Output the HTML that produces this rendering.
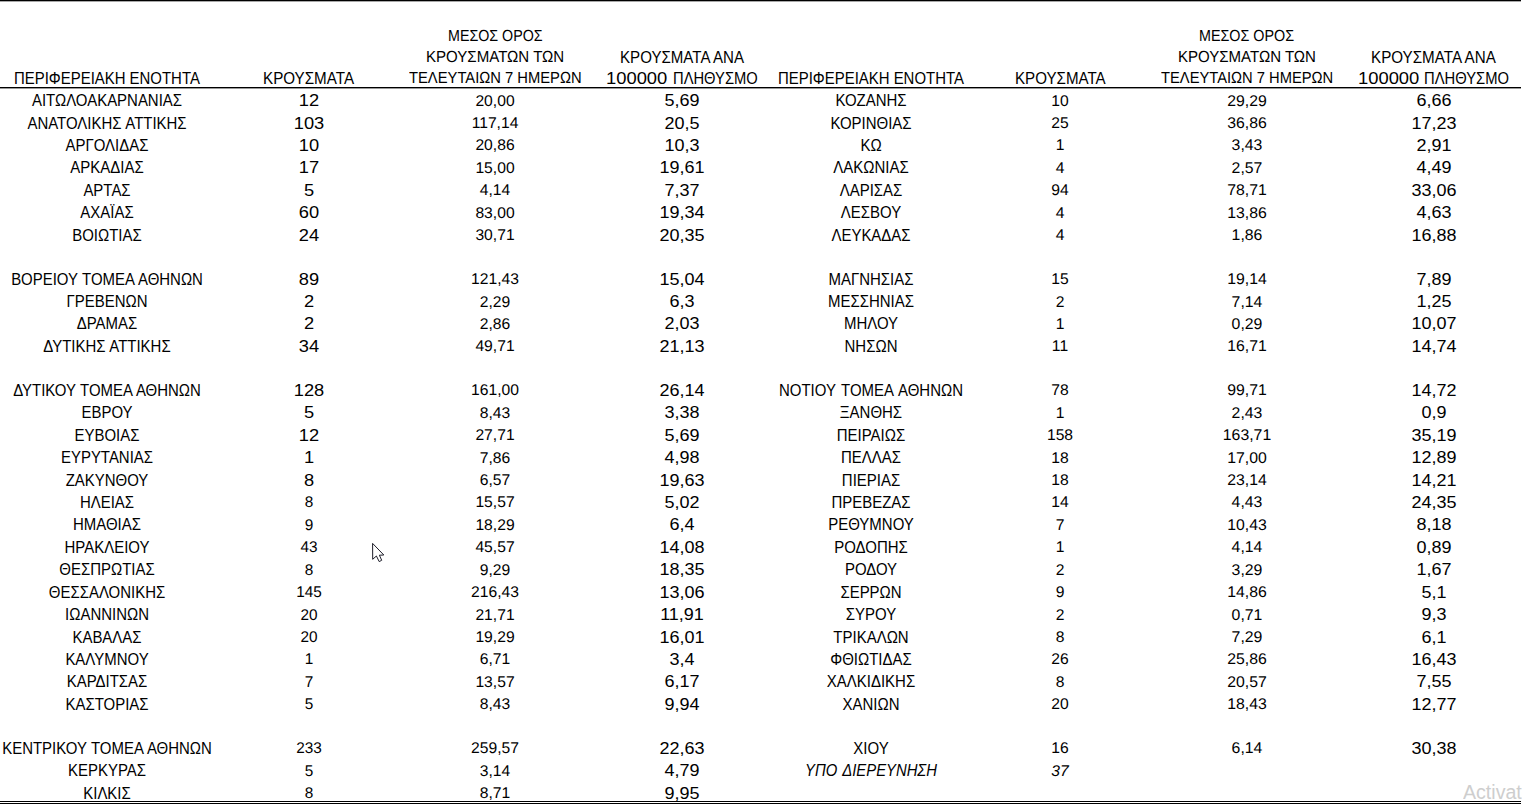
<!DOCTYPE html><html><head><meta charset="utf-8"><style>
html,body{margin:0;padding:0;background:#fff;}
body{width:1522px;height:809px;overflow:hidden;position:relative;font-family:"Liberation Sans",sans-serif;color:#000;}
.t{position:absolute;white-space:nowrap;line-height:1;width:0;height:0;}
.t span{position:absolute;left:0;top:0;display:block;}
.ln{position:absolute;background:#000;}

</style></head><body>

<div class="t" style="left:106.5px;top:93px"><span style="font-size:16px;transform:translateX(-50%) scaleX(0.935);">ΑΙΤΩΛΟΑΚΑΡΝΑΝΙΑΣ</span></div>
<div class="t" style="left:308.9px;top:93px"><span style="font-size:16px;transform:translateX(-50%) scaleX(1.142);">12</span></div>
<div class="t" style="left:494.8px;top:94px"><span style="font-size:15.5px;transform:translateX(-50%) scaleX(1.01);text-rendering:geometricPrecision;">20,00</span></div>
<div class="t" style="left:681.9px;top:93px"><span style="font-size:16px;transform:translateX(-50%) scaleX(1.125);">5,69</span></div>
<div class="t" style="left:871.0px;top:93px"><span style="font-size:16px;transform:translateX(-50%) scaleX(0.936);">ΚΟΖΑΝΗΣ</span></div>
<div class="t" style="left:1059.7px;top:94px"><span style="font-size:15.5px;transform:translateX(-50%) scaleX(1.01);text-rendering:geometricPrecision;">10</span></div>
<div class="t" style="left:1246.5px;top:94px"><span style="font-size:15.5px;transform:translateX(-50%) scaleX(1.02);text-rendering:geometricPrecision;">29,29</span></div>
<div class="t" style="left:1433.6px;top:93px"><span style="font-size:16px;transform:translateX(-50%) scaleX(1.124);">6,66</span></div>
<div class="t" style="left:106.5px;top:116px"><span style="font-size:16px;transform:translateX(-50%) scaleX(0.935);word-spacing:0.5px;">ΑΝΑΤΟΛΙΚΗΣ ΑΤΤΙΚΗΣ</span></div>
<div class="t" style="left:308.9px;top:116px"><span style="font-size:16px;transform:translateX(-50%) scaleX(1.142);">103</span></div>
<div class="t" style="left:494.8px;top:116px"><span style="font-size:15.5px;transform:translateX(-50%) scaleX(1.01);text-rendering:geometricPrecision;">117,14</span></div>
<div class="t" style="left:681.9px;top:116px"><span style="font-size:16px;transform:translateX(-50%) scaleX(1.125);">20,5</span></div>
<div class="t" style="left:871.0px;top:116px"><span style="font-size:16px;transform:translateX(-50%) scaleX(0.936);">ΚΟΡΙΝΘΙΑΣ</span></div>
<div class="t" style="left:1059.7px;top:116px"><span style="font-size:15.5px;transform:translateX(-50%) scaleX(1.01);text-rendering:geometricPrecision;">25</span></div>
<div class="t" style="left:1246.5px;top:116px"><span style="font-size:15.5px;transform:translateX(-50%) scaleX(1.02);text-rendering:geometricPrecision;">36,86</span></div>
<div class="t" style="left:1433.6px;top:116px"><span style="font-size:16px;transform:translateX(-50%) scaleX(1.124);">17,23</span></div>
<div class="t" style="left:106.5px;top:138px"><span style="font-size:16px;transform:translateX(-50%) scaleX(0.935);">ΑΡΓΟΛΙΔΑΣ</span></div>
<div class="t" style="left:308.9px;top:138px"><span style="font-size:16px;transform:translateX(-50%) scaleX(1.142);">10</span></div>
<div class="t" style="left:494.8px;top:138px"><span style="font-size:15.5px;transform:translateX(-50%) scaleX(1.01);text-rendering:geometricPrecision;">20,86</span></div>
<div class="t" style="left:681.9px;top:138px"><span style="font-size:16px;transform:translateX(-50%) scaleX(1.125);">10,3</span></div>
<div class="t" style="left:871.0px;top:138px"><span style="font-size:16px;transform:translateX(-50%) scaleX(0.936);">ΚΩ</span></div>
<div class="t" style="left:1059.7px;top:138px"><span style="font-size:15.5px;transform:translateX(-50%) scaleX(1.01);text-rendering:geometricPrecision;">1</span></div>
<div class="t" style="left:1246.5px;top:138px"><span style="font-size:15.5px;transform:translateX(-50%) scaleX(1.02);text-rendering:geometricPrecision;">3,43</span></div>
<div class="t" style="left:1433.6px;top:138px"><span style="font-size:16px;transform:translateX(-50%) scaleX(1.124);">2,91</span></div>
<div class="t" style="left:106.5px;top:160px"><span style="font-size:16px;transform:translateX(-50%) scaleX(0.935);">ΑΡΚΑΔΙΑΣ</span></div>
<div class="t" style="left:308.9px;top:160px"><span style="font-size:16px;transform:translateX(-50%) scaleX(1.142);">17</span></div>
<div class="t" style="left:494.8px;top:161px"><span style="font-size:15.5px;transform:translateX(-50%) scaleX(1.01);text-rendering:geometricPrecision;">15,00</span></div>
<div class="t" style="left:681.9px;top:160px"><span style="font-size:16px;transform:translateX(-50%) scaleX(1.125);">19,61</span></div>
<div class="t" style="left:871.0px;top:160px"><span style="font-size:16px;transform:translateX(-50%) scaleX(0.936);">ΛΑΚΩΝΙΑΣ</span></div>
<div class="t" style="left:1059.7px;top:161px"><span style="font-size:15.5px;transform:translateX(-50%) scaleX(1.01);text-rendering:geometricPrecision;">4</span></div>
<div class="t" style="left:1246.5px;top:161px"><span style="font-size:15.5px;transform:translateX(-50%) scaleX(1.02);text-rendering:geometricPrecision;">2,57</span></div>
<div class="t" style="left:1433.6px;top:160px"><span style="font-size:16px;transform:translateX(-50%) scaleX(1.124);">4,49</span></div>
<div class="t" style="left:106.5px;top:183px"><span style="font-size:16px;transform:translateX(-50%) scaleX(0.935);">ΑΡΤΑΣ</span></div>
<div class="t" style="left:308.9px;top:183px"><span style="font-size:16px;transform:translateX(-50%) scaleX(1.142);">5</span></div>
<div class="t" style="left:494.8px;top:183px"><span style="font-size:15.5px;transform:translateX(-50%) scaleX(1.01);text-rendering:geometricPrecision;">4,14</span></div>
<div class="t" style="left:681.9px;top:183px"><span style="font-size:16px;transform:translateX(-50%) scaleX(1.125);">7,37</span></div>
<div class="t" style="left:871.0px;top:183px"><span style="font-size:16px;transform:translateX(-50%) scaleX(0.936);">ΛΑΡΙΣΑΣ</span></div>
<div class="t" style="left:1059.7px;top:183px"><span style="font-size:15.5px;transform:translateX(-50%) scaleX(1.01);text-rendering:geometricPrecision;">94</span></div>
<div class="t" style="left:1246.5px;top:183px"><span style="font-size:15.5px;transform:translateX(-50%) scaleX(1.02);text-rendering:geometricPrecision;">78,71</span></div>
<div class="t" style="left:1433.6px;top:183px"><span style="font-size:16px;transform:translateX(-50%) scaleX(1.124);">33,06</span></div>
<div class="t" style="left:106.5px;top:205px"><span style="font-size:16px;transform:translateX(-50%) scaleX(0.935);">ΑΧΑΪΑΣ</span></div>
<div class="t" style="left:308.9px;top:205px"><span style="font-size:16px;transform:translateX(-50%) scaleX(1.142);">60</span></div>
<div class="t" style="left:494.8px;top:206px"><span style="font-size:15.5px;transform:translateX(-50%) scaleX(1.01);text-rendering:geometricPrecision;">83,00</span></div>
<div class="t" style="left:681.9px;top:205px"><span style="font-size:16px;transform:translateX(-50%) scaleX(1.125);">19,34</span></div>
<div class="t" style="left:871.0px;top:205px"><span style="font-size:16px;transform:translateX(-50%) scaleX(0.936);">ΛΕΣΒΟΥ</span></div>
<div class="t" style="left:1059.7px;top:206px"><span style="font-size:15.5px;transform:translateX(-50%) scaleX(1.01);text-rendering:geometricPrecision;">4</span></div>
<div class="t" style="left:1246.5px;top:206px"><span style="font-size:15.5px;transform:translateX(-50%) scaleX(1.02);text-rendering:geometricPrecision;">13,86</span></div>
<div class="t" style="left:1433.6px;top:205px"><span style="font-size:16px;transform:translateX(-50%) scaleX(1.124);">4,63</span></div>
<div class="t" style="left:106.5px;top:228px"><span style="font-size:16px;transform:translateX(-50%) scaleX(0.935);">ΒΟΙΩΤΙΑΣ</span></div>
<div class="t" style="left:308.9px;top:228px"><span style="font-size:16px;transform:translateX(-50%) scaleX(1.142);">24</span></div>
<div class="t" style="left:494.8px;top:228px"><span style="font-size:15.5px;transform:translateX(-50%) scaleX(1.01);text-rendering:geometricPrecision;">30,71</span></div>
<div class="t" style="left:681.9px;top:228px"><span style="font-size:16px;transform:translateX(-50%) scaleX(1.125);">20,35</span></div>
<div class="t" style="left:871.0px;top:228px"><span style="font-size:16px;transform:translateX(-50%) scaleX(0.936);">ΛΕΥΚΑΔΑΣ</span></div>
<div class="t" style="left:1059.7px;top:228px"><span style="font-size:15.5px;transform:translateX(-50%) scaleX(1.01);text-rendering:geometricPrecision;">4</span></div>
<div class="t" style="left:1246.5px;top:228px"><span style="font-size:15.5px;transform:translateX(-50%) scaleX(1.02);text-rendering:geometricPrecision;">1,86</span></div>
<div class="t" style="left:1433.6px;top:228px"><span style="font-size:16px;transform:translateX(-50%) scaleX(1.124);">16,88</span></div>
<div class="t" style="left:106.5px;top:272px"><span style="font-size:16px;transform:translateX(-50%) scaleX(0.935);word-spacing:0.5px;">ΒΟΡΕΙΟΥ ΤΟΜΕΑ ΑΘΗΝΩΝ</span></div>
<div class="t" style="left:308.9px;top:272px"><span style="font-size:16px;transform:translateX(-50%) scaleX(1.142);">89</span></div>
<div class="t" style="left:494.8px;top:272px"><span style="font-size:15.5px;transform:translateX(-50%) scaleX(1.01);text-rendering:geometricPrecision;">121,43</span></div>
<div class="t" style="left:681.9px;top:272px"><span style="font-size:16px;transform:translateX(-50%) scaleX(1.125);">15,04</span></div>
<div class="t" style="left:871.0px;top:272px"><span style="font-size:16px;transform:translateX(-50%) scaleX(0.936);">ΜΑΓΝΗΣΙΑΣ</span></div>
<div class="t" style="left:1059.7px;top:272px"><span style="font-size:15.5px;transform:translateX(-50%) scaleX(1.01);text-rendering:geometricPrecision;">15</span></div>
<div class="t" style="left:1246.5px;top:272px"><span style="font-size:15.5px;transform:translateX(-50%) scaleX(1.02);text-rendering:geometricPrecision;">19,14</span></div>
<div class="t" style="left:1433.6px;top:272px"><span style="font-size:16px;transform:translateX(-50%) scaleX(1.124);">7,89</span></div>
<div class="t" style="left:106.5px;top:294px"><span style="font-size:16px;transform:translateX(-50%) scaleX(0.935);">ΓΡΕΒΕΝΩΝ</span></div>
<div class="t" style="left:308.9px;top:294px"><span style="font-size:16px;transform:translateX(-50%) scaleX(1.142);">2</span></div>
<div class="t" style="left:494.8px;top:295px"><span style="font-size:15.5px;transform:translateX(-50%) scaleX(1.01);text-rendering:geometricPrecision;">2,29</span></div>
<div class="t" style="left:681.9px;top:294px"><span style="font-size:16px;transform:translateX(-50%) scaleX(1.125);">6,3</span></div>
<div class="t" style="left:871.0px;top:294px"><span style="font-size:16px;transform:translateX(-50%) scaleX(0.936);">ΜΕΣΣΗΝΙΑΣ</span></div>
<div class="t" style="left:1059.7px;top:295px"><span style="font-size:15.5px;transform:translateX(-50%) scaleX(1.01);text-rendering:geometricPrecision;">2</span></div>
<div class="t" style="left:1246.5px;top:295px"><span style="font-size:15.5px;transform:translateX(-50%) scaleX(1.02);text-rendering:geometricPrecision;">7,14</span></div>
<div class="t" style="left:1433.6px;top:294px"><span style="font-size:16px;transform:translateX(-50%) scaleX(1.124);">1,25</span></div>
<div class="t" style="left:106.5px;top:316px"><span style="font-size:16px;transform:translateX(-50%) scaleX(0.935);">ΔΡΑΜΑΣ</span></div>
<div class="t" style="left:308.9px;top:316px"><span style="font-size:16px;transform:translateX(-50%) scaleX(1.142);">2</span></div>
<div class="t" style="left:494.8px;top:317px"><span style="font-size:15.5px;transform:translateX(-50%) scaleX(1.01);text-rendering:geometricPrecision;">2,86</span></div>
<div class="t" style="left:681.9px;top:316px"><span style="font-size:16px;transform:translateX(-50%) scaleX(1.125);">2,03</span></div>
<div class="t" style="left:871.0px;top:316px"><span style="font-size:16px;transform:translateX(-50%) scaleX(0.936);">ΜΗΛΟΥ</span></div>
<div class="t" style="left:1059.7px;top:317px"><span style="font-size:15.5px;transform:translateX(-50%) scaleX(1.01);text-rendering:geometricPrecision;">1</span></div>
<div class="t" style="left:1246.5px;top:317px"><span style="font-size:15.5px;transform:translateX(-50%) scaleX(1.02);text-rendering:geometricPrecision;">0,29</span></div>
<div class="t" style="left:1433.6px;top:316px"><span style="font-size:16px;transform:translateX(-50%) scaleX(1.124);">10,07</span></div>
<div class="t" style="left:106.5px;top:339px"><span style="font-size:16px;transform:translateX(-50%) scaleX(0.935);word-spacing:0.5px;">ΔΥΤΙΚΗΣ ΑΤΤΙΚΗΣ</span></div>
<div class="t" style="left:308.9px;top:339px"><span style="font-size:16px;transform:translateX(-50%) scaleX(1.142);">34</span></div>
<div class="t" style="left:494.8px;top:339px"><span style="font-size:15.5px;transform:translateX(-50%) scaleX(1.01);text-rendering:geometricPrecision;">49,71</span></div>
<div class="t" style="left:681.9px;top:339px"><span style="font-size:16px;transform:translateX(-50%) scaleX(1.125);">21,13</span></div>
<div class="t" style="left:871.0px;top:339px"><span style="font-size:16px;transform:translateX(-50%) scaleX(0.936);">ΝΗΣΩΝ</span></div>
<div class="t" style="left:1059.7px;top:339px"><span style="font-size:15.5px;transform:translateX(-50%) scaleX(1.01);text-rendering:geometricPrecision;">11</span></div>
<div class="t" style="left:1246.5px;top:339px"><span style="font-size:15.5px;transform:translateX(-50%) scaleX(1.02);text-rendering:geometricPrecision;">16,71</span></div>
<div class="t" style="left:1433.6px;top:339px"><span style="font-size:16px;transform:translateX(-50%) scaleX(1.124);">14,74</span></div>
<div class="t" style="left:106.5px;top:383px"><span style="font-size:16px;transform:translateX(-50%) scaleX(0.935);word-spacing:0.5px;">ΔΥΤΙΚΟΥ ΤΟΜΕΑ ΑΘΗΝΩΝ</span></div>
<div class="t" style="left:308.9px;top:383px"><span style="font-size:16px;transform:translateX(-50%) scaleX(1.142);">128</span></div>
<div class="t" style="left:494.8px;top:383px"><span style="font-size:15.5px;transform:translateX(-50%) scaleX(1.01);text-rendering:geometricPrecision;">161,00</span></div>
<div class="t" style="left:681.9px;top:383px"><span style="font-size:16px;transform:translateX(-50%) scaleX(1.125);">26,14</span></div>
<div class="t" style="left:871.0px;top:383px"><span style="font-size:16px;transform:translateX(-50%) scaleX(0.936);word-spacing:1.6px;">ΝΟΤΙΟΥ ΤΟΜΕΑ ΑΘΗΝΩΝ</span></div>
<div class="t" style="left:1059.7px;top:383px"><span style="font-size:15.5px;transform:translateX(-50%) scaleX(1.01);text-rendering:geometricPrecision;">78</span></div>
<div class="t" style="left:1246.5px;top:383px"><span style="font-size:15.5px;transform:translateX(-50%) scaleX(1.02);text-rendering:geometricPrecision;">99,71</span></div>
<div class="t" style="left:1433.6px;top:383px"><span style="font-size:16px;transform:translateX(-50%) scaleX(1.124);">14,72</span></div>
<div class="t" style="left:106.5px;top:405px"><span style="font-size:16px;transform:translateX(-50%) scaleX(0.935);">ΕΒΡΟΥ</span></div>
<div class="t" style="left:308.9px;top:405px"><span style="font-size:16px;transform:translateX(-50%) scaleX(1.142);">5</span></div>
<div class="t" style="left:494.8px;top:406px"><span style="font-size:15.5px;transform:translateX(-50%) scaleX(1.01);text-rendering:geometricPrecision;">8,43</span></div>
<div class="t" style="left:681.9px;top:405px"><span style="font-size:16px;transform:translateX(-50%) scaleX(1.125);">3,38</span></div>
<div class="t" style="left:871.0px;top:405px"><span style="font-size:16px;transform:translateX(-50%) scaleX(0.936);">ΞΑΝΘΗΣ</span></div>
<div class="t" style="left:1059.7px;top:406px"><span style="font-size:15.5px;transform:translateX(-50%) scaleX(1.01);text-rendering:geometricPrecision;">1</span></div>
<div class="t" style="left:1246.5px;top:406px"><span style="font-size:15.5px;transform:translateX(-50%) scaleX(1.02);text-rendering:geometricPrecision;">2,43</span></div>
<div class="t" style="left:1433.6px;top:405px"><span style="font-size:16px;transform:translateX(-50%) scaleX(1.124);">0,9</span></div>
<div class="t" style="left:106.5px;top:428px"><span style="font-size:16px;transform:translateX(-50%) scaleX(0.935);">ΕΥΒΟΙΑΣ</span></div>
<div class="t" style="left:308.9px;top:428px"><span style="font-size:16px;transform:translateX(-50%) scaleX(1.142);">12</span></div>
<div class="t" style="left:494.8px;top:428px"><span style="font-size:15.5px;transform:translateX(-50%) scaleX(1.01);text-rendering:geometricPrecision;">27,71</span></div>
<div class="t" style="left:681.9px;top:428px"><span style="font-size:16px;transform:translateX(-50%) scaleX(1.125);">5,69</span></div>
<div class="t" style="left:871.0px;top:428px"><span style="font-size:16px;transform:translateX(-50%) scaleX(0.936);">ΠΕΙΡΑΙΩΣ</span></div>
<div class="t" style="left:1059.7px;top:428px"><span style="font-size:15.5px;transform:translateX(-50%) scaleX(1.01);text-rendering:geometricPrecision;">158</span></div>
<div class="t" style="left:1246.5px;top:428px"><span style="font-size:15.5px;transform:translateX(-50%) scaleX(1.02);text-rendering:geometricPrecision;">163,71</span></div>
<div class="t" style="left:1433.6px;top:428px"><span style="font-size:16px;transform:translateX(-50%) scaleX(1.124);">35,19</span></div>
<div class="t" style="left:106.5px;top:450px"><span style="font-size:16px;transform:translateX(-50%) scaleX(0.935);">ΕΥΡΥΤΑΝΙΑΣ</span></div>
<div class="t" style="left:308.9px;top:450px"><span style="font-size:16px;transform:translateX(-50%) scaleX(1.142);">1</span></div>
<div class="t" style="left:494.8px;top:451px"><span style="font-size:15.5px;transform:translateX(-50%) scaleX(1.01);text-rendering:geometricPrecision;">7,86</span></div>
<div class="t" style="left:681.9px;top:450px"><span style="font-size:16px;transform:translateX(-50%) scaleX(1.125);">4,98</span></div>
<div class="t" style="left:871.0px;top:450px"><span style="font-size:16px;transform:translateX(-50%) scaleX(0.936);">ΠΕΛΛΑΣ</span></div>
<div class="t" style="left:1059.7px;top:451px"><span style="font-size:15.5px;transform:translateX(-50%) scaleX(1.01);text-rendering:geometricPrecision;">18</span></div>
<div class="t" style="left:1246.5px;top:451px"><span style="font-size:15.5px;transform:translateX(-50%) scaleX(1.02);text-rendering:geometricPrecision;">17,00</span></div>
<div class="t" style="left:1433.6px;top:450px"><span style="font-size:16px;transform:translateX(-50%) scaleX(1.124);">12,89</span></div>
<div class="t" style="left:106.5px;top:473px"><span style="font-size:16px;transform:translateX(-50%) scaleX(0.935);">ΖΑΚΥΝΘΟΥ</span></div>
<div class="t" style="left:308.9px;top:473px"><span style="font-size:16px;transform:translateX(-50%) scaleX(1.142);">8</span></div>
<div class="t" style="left:494.8px;top:473px"><span style="font-size:15.5px;transform:translateX(-50%) scaleX(1.01);text-rendering:geometricPrecision;">6,57</span></div>
<div class="t" style="left:681.9px;top:473px"><span style="font-size:16px;transform:translateX(-50%) scaleX(1.125);">19,63</span></div>
<div class="t" style="left:871.0px;top:473px"><span style="font-size:16px;transform:translateX(-50%) scaleX(0.936);">ΠΙΕΡΙΑΣ</span></div>
<div class="t" style="left:1059.7px;top:473px"><span style="font-size:15.5px;transform:translateX(-50%) scaleX(1.01);text-rendering:geometricPrecision;">18</span></div>
<div class="t" style="left:1246.5px;top:473px"><span style="font-size:15.5px;transform:translateX(-50%) scaleX(1.02);text-rendering:geometricPrecision;">23,14</span></div>
<div class="t" style="left:1433.6px;top:473px"><span style="font-size:16px;transform:translateX(-50%) scaleX(1.124);">14,21</span></div>
<div class="t" style="left:106.5px;top:495px"><span style="font-size:16px;transform:translateX(-50%) scaleX(0.935);">ΗΛΕΙΑΣ</span></div>
<div class="t" style="left:308.6px;top:495px"><span style="font-size:15.5px;transform:translateX(-50%) scaleX(0.99);text-rendering:geometricPrecision;">8</span></div>
<div class="t" style="left:494.8px;top:495px"><span style="font-size:15.5px;transform:translateX(-50%) scaleX(1.01);text-rendering:geometricPrecision;">15,57</span></div>
<div class="t" style="left:681.9px;top:495px"><span style="font-size:16px;transform:translateX(-50%) scaleX(1.125);">5,02</span></div>
<div class="t" style="left:871.0px;top:495px"><span style="font-size:16px;transform:translateX(-50%) scaleX(0.936);">ΠΡΕΒΕΖΑΣ</span></div>
<div class="t" style="left:1059.7px;top:495px"><span style="font-size:15.5px;transform:translateX(-50%) scaleX(1.01);text-rendering:geometricPrecision;">14</span></div>
<div class="t" style="left:1246.5px;top:495px"><span style="font-size:15.5px;transform:translateX(-50%) scaleX(1.02);text-rendering:geometricPrecision;">4,43</span></div>
<div class="t" style="left:1433.6px;top:495px"><span style="font-size:16px;transform:translateX(-50%) scaleX(1.124);">24,35</span></div>
<div class="t" style="left:106.5px;top:517px"><span style="font-size:16px;transform:translateX(-50%) scaleX(0.935);">ΗΜΑΘΙΑΣ</span></div>
<div class="t" style="left:308.6px;top:518px"><span style="font-size:15.5px;transform:translateX(-50%) scaleX(0.99);text-rendering:geometricPrecision;">9</span></div>
<div class="t" style="left:494.8px;top:518px"><span style="font-size:15.5px;transform:translateX(-50%) scaleX(1.01);text-rendering:geometricPrecision;">18,29</span></div>
<div class="t" style="left:681.9px;top:517px"><span style="font-size:16px;transform:translateX(-50%) scaleX(1.125);">6,4</span></div>
<div class="t" style="left:871.0px;top:517px"><span style="font-size:16px;transform:translateX(-50%) scaleX(0.936);">ΡΕΘΥΜΝΟΥ</span></div>
<div class="t" style="left:1059.7px;top:518px"><span style="font-size:15.5px;transform:translateX(-50%) scaleX(1.01);text-rendering:geometricPrecision;">7</span></div>
<div class="t" style="left:1246.5px;top:518px"><span style="font-size:15.5px;transform:translateX(-50%) scaleX(1.02);text-rendering:geometricPrecision;">10,43</span></div>
<div class="t" style="left:1433.6px;top:517px"><span style="font-size:16px;transform:translateX(-50%) scaleX(1.124);">8,18</span></div>
<div class="t" style="left:106.5px;top:540px"><span style="font-size:16px;transform:translateX(-50%) scaleX(0.935);">ΗΡΑΚΛΕΙΟΥ</span></div>
<div class="t" style="left:308.6px;top:540px"><span style="font-size:15.5px;transform:translateX(-50%) scaleX(0.99);text-rendering:geometricPrecision;">43</span></div>
<div class="t" style="left:494.8px;top:540px"><span style="font-size:15.5px;transform:translateX(-50%) scaleX(1.01);text-rendering:geometricPrecision;">45,57</span></div>
<div class="t" style="left:681.9px;top:540px"><span style="font-size:16px;transform:translateX(-50%) scaleX(1.125);">14,08</span></div>
<div class="t" style="left:871.0px;top:540px"><span style="font-size:16px;transform:translateX(-50%) scaleX(0.936);">ΡΟΔΟΠΗΣ</span></div>
<div class="t" style="left:1059.7px;top:540px"><span style="font-size:15.5px;transform:translateX(-50%) scaleX(1.01);text-rendering:geometricPrecision;">1</span></div>
<div class="t" style="left:1246.5px;top:540px"><span style="font-size:15.5px;transform:translateX(-50%) scaleX(1.02);text-rendering:geometricPrecision;">4,14</span></div>
<div class="t" style="left:1433.6px;top:540px"><span style="font-size:16px;transform:translateX(-50%) scaleX(1.124);">0,89</span></div>
<div class="t" style="left:106.5px;top:562px"><span style="font-size:16px;transform:translateX(-50%) scaleX(0.935);">ΘΕΣΠΡΩΤΙΑΣ</span></div>
<div class="t" style="left:308.6px;top:563px"><span style="font-size:15.5px;transform:translateX(-50%) scaleX(0.99);text-rendering:geometricPrecision;">8</span></div>
<div class="t" style="left:494.8px;top:563px"><span style="font-size:15.5px;transform:translateX(-50%) scaleX(1.01);text-rendering:geometricPrecision;">9,29</span></div>
<div class="t" style="left:681.9px;top:562px"><span style="font-size:16px;transform:translateX(-50%) scaleX(1.125);">18,35</span></div>
<div class="t" style="left:871.0px;top:562px"><span style="font-size:16px;transform:translateX(-50%) scaleX(0.936);">ΡΟΔΟΥ</span></div>
<div class="t" style="left:1059.7px;top:563px"><span style="font-size:15.5px;transform:translateX(-50%) scaleX(1.01);text-rendering:geometricPrecision;">2</span></div>
<div class="t" style="left:1246.5px;top:563px"><span style="font-size:15.5px;transform:translateX(-50%) scaleX(1.02);text-rendering:geometricPrecision;">3,29</span></div>
<div class="t" style="left:1433.6px;top:562px"><span style="font-size:16px;transform:translateX(-50%) scaleX(1.124);">1,67</span></div>
<div class="t" style="left:106.5px;top:585px"><span style="font-size:16px;transform:translateX(-50%) scaleX(0.935);">ΘΕΣΣΑΛΟΝΙΚΗΣ</span></div>
<div class="t" style="left:308.6px;top:585px"><span style="font-size:15.5px;transform:translateX(-50%) scaleX(0.99);text-rendering:geometricPrecision;">145</span></div>
<div class="t" style="left:494.8px;top:585px"><span style="font-size:15.5px;transform:translateX(-50%) scaleX(1.01);text-rendering:geometricPrecision;">216,43</span></div>
<div class="t" style="left:681.9px;top:585px"><span style="font-size:16px;transform:translateX(-50%) scaleX(1.125);">13,06</span></div>
<div class="t" style="left:871.0px;top:585px"><span style="font-size:16px;transform:translateX(-50%) scaleX(0.936);">ΣΕΡΡΩΝ</span></div>
<div class="t" style="left:1059.7px;top:585px"><span style="font-size:15.5px;transform:translateX(-50%) scaleX(1.01);text-rendering:geometricPrecision;">9</span></div>
<div class="t" style="left:1246.5px;top:585px"><span style="font-size:15.5px;transform:translateX(-50%) scaleX(1.02);text-rendering:geometricPrecision;">14,86</span></div>
<div class="t" style="left:1433.6px;top:585px"><span style="font-size:16px;transform:translateX(-50%) scaleX(1.124);">5,1</span></div>
<div class="t" style="left:106.5px;top:607px"><span style="font-size:16px;transform:translateX(-50%) scaleX(0.935);">ΙΩΑΝΝΙΝΩΝ</span></div>
<div class="t" style="left:308.6px;top:608px"><span style="font-size:15.5px;transform:translateX(-50%) scaleX(0.99);text-rendering:geometricPrecision;">20</span></div>
<div class="t" style="left:494.8px;top:608px"><span style="font-size:15.5px;transform:translateX(-50%) scaleX(1.01);text-rendering:geometricPrecision;">21,71</span></div>
<div class="t" style="left:681.9px;top:607px"><span style="font-size:16px;transform:translateX(-50%) scaleX(1.125);">11,91</span></div>
<div class="t" style="left:871.0px;top:607px"><span style="font-size:16px;transform:translateX(-50%) scaleX(0.936);">ΣΥΡΟΥ</span></div>
<div class="t" style="left:1059.7px;top:608px"><span style="font-size:15.5px;transform:translateX(-50%) scaleX(1.01);text-rendering:geometricPrecision;">2</span></div>
<div class="t" style="left:1246.5px;top:608px"><span style="font-size:15.5px;transform:translateX(-50%) scaleX(1.02);text-rendering:geometricPrecision;">0,71</span></div>
<div class="t" style="left:1433.6px;top:607px"><span style="font-size:16px;transform:translateX(-50%) scaleX(1.124);">9,3</span></div>
<div class="t" style="left:106.5px;top:630px"><span style="font-size:16px;transform:translateX(-50%) scaleX(0.935);">ΚΑΒΑΛΑΣ</span></div>
<div class="t" style="left:308.6px;top:630px"><span style="font-size:15.5px;transform:translateX(-50%) scaleX(0.99);text-rendering:geometricPrecision;">20</span></div>
<div class="t" style="left:494.8px;top:630px"><span style="font-size:15.5px;transform:translateX(-50%) scaleX(1.01);text-rendering:geometricPrecision;">19,29</span></div>
<div class="t" style="left:681.9px;top:630px"><span style="font-size:16px;transform:translateX(-50%) scaleX(1.125);">16,01</span></div>
<div class="t" style="left:871.0px;top:630px"><span style="font-size:16px;transform:translateX(-50%) scaleX(0.936);">ΤΡΙΚΑΛΩΝ</span></div>
<div class="t" style="left:1059.7px;top:630px"><span style="font-size:15.5px;transform:translateX(-50%) scaleX(1.01);text-rendering:geometricPrecision;">8</span></div>
<div class="t" style="left:1246.5px;top:630px"><span style="font-size:15.5px;transform:translateX(-50%) scaleX(1.02);text-rendering:geometricPrecision;">7,29</span></div>
<div class="t" style="left:1433.6px;top:630px"><span style="font-size:16px;transform:translateX(-50%) scaleX(1.124);">6,1</span></div>
<div class="t" style="left:106.5px;top:652px"><span style="font-size:16px;transform:translateX(-50%) scaleX(0.935);">ΚΑΛΥΜΝΟΥ</span></div>
<div class="t" style="left:308.6px;top:652px"><span style="font-size:15.5px;transform:translateX(-50%) scaleX(0.99);text-rendering:geometricPrecision;">1</span></div>
<div class="t" style="left:494.8px;top:652px"><span style="font-size:15.5px;transform:translateX(-50%) scaleX(1.01);text-rendering:geometricPrecision;">6,71</span></div>
<div class="t" style="left:681.9px;top:652px"><span style="font-size:16px;transform:translateX(-50%) scaleX(1.125);">3,4</span></div>
<div class="t" style="left:871.0px;top:652px"><span style="font-size:16px;transform:translateX(-50%) scaleX(0.936);">ΦΘΙΩΤΙΔΑΣ</span></div>
<div class="t" style="left:1059.7px;top:652px"><span style="font-size:15.5px;transform:translateX(-50%) scaleX(1.01);text-rendering:geometricPrecision;">26</span></div>
<div class="t" style="left:1246.5px;top:652px"><span style="font-size:15.5px;transform:translateX(-50%) scaleX(1.02);text-rendering:geometricPrecision;">25,86</span></div>
<div class="t" style="left:1433.6px;top:652px"><span style="font-size:16px;transform:translateX(-50%) scaleX(1.124);">16,43</span></div>
<div class="t" style="left:106.5px;top:674px"><span style="font-size:16px;transform:translateX(-50%) scaleX(0.935);">ΚΑΡΔΙΤΣΑΣ</span></div>
<div class="t" style="left:308.6px;top:675px"><span style="font-size:15.5px;transform:translateX(-50%) scaleX(0.99);text-rendering:geometricPrecision;">7</span></div>
<div class="t" style="left:494.8px;top:675px"><span style="font-size:15.5px;transform:translateX(-50%) scaleX(1.01);text-rendering:geometricPrecision;">13,57</span></div>
<div class="t" style="left:681.9px;top:674px"><span style="font-size:16px;transform:translateX(-50%) scaleX(1.125);">6,17</span></div>
<div class="t" style="left:871.0px;top:674px"><span style="font-size:16px;transform:translateX(-50%) scaleX(0.936);">ΧΑΛΚΙΔΙΚΗΣ</span></div>
<div class="t" style="left:1059.7px;top:675px"><span style="font-size:15.5px;transform:translateX(-50%) scaleX(1.01);text-rendering:geometricPrecision;">8</span></div>
<div class="t" style="left:1246.5px;top:675px"><span style="font-size:15.5px;transform:translateX(-50%) scaleX(1.02);text-rendering:geometricPrecision;">20,57</span></div>
<div class="t" style="left:1433.6px;top:674px"><span style="font-size:16px;transform:translateX(-50%) scaleX(1.124);">7,55</span></div>
<div class="t" style="left:106.5px;top:697px"><span style="font-size:16px;transform:translateX(-50%) scaleX(0.935);">ΚΑΣΤΟΡΙΑΣ</span></div>
<div class="t" style="left:308.6px;top:697px"><span style="font-size:15.5px;transform:translateX(-50%) scaleX(0.99);text-rendering:geometricPrecision;">5</span></div>
<div class="t" style="left:494.8px;top:697px"><span style="font-size:15.5px;transform:translateX(-50%) scaleX(1.01);text-rendering:geometricPrecision;">8,43</span></div>
<div class="t" style="left:681.9px;top:697px"><span style="font-size:16px;transform:translateX(-50%) scaleX(1.125);">9,94</span></div>
<div class="t" style="left:871.0px;top:697px"><span style="font-size:16px;transform:translateX(-50%) scaleX(0.936);">ΧΑΝΙΩΝ</span></div>
<div class="t" style="left:1059.7px;top:697px"><span style="font-size:15.5px;transform:translateX(-50%) scaleX(1.01);text-rendering:geometricPrecision;">20</span></div>
<div class="t" style="left:1246.5px;top:697px"><span style="font-size:15.5px;transform:translateX(-50%) scaleX(1.02);text-rendering:geometricPrecision;">18,43</span></div>
<div class="t" style="left:1433.6px;top:697px"><span style="font-size:16px;transform:translateX(-50%) scaleX(1.124);">12,77</span></div>
<div class="t" style="left:106.5px;top:741px"><span style="font-size:16px;transform:translateX(-50%) scaleX(0.935);word-spacing:0.5px;">ΚΕΝΤΡΙΚΟΥ ΤΟΜΕΑ ΑΘΗΝΩΝ</span></div>
<div class="t" style="left:308.6px;top:741px"><span style="font-size:15.5px;transform:translateX(-50%) scaleX(0.99);text-rendering:geometricPrecision;">233</span></div>
<div class="t" style="left:494.8px;top:741px"><span style="font-size:15.5px;transform:translateX(-50%) scaleX(1.01);text-rendering:geometricPrecision;">259,57</span></div>
<div class="t" style="left:681.9px;top:741px"><span style="font-size:16px;transform:translateX(-50%) scaleX(1.125);">22,63</span></div>
<div class="t" style="left:871.0px;top:741px"><span style="font-size:16px;transform:translateX(-50%) scaleX(0.936);">ΧΙΟΥ</span></div>
<div class="t" style="left:1059.7px;top:741px"><span style="font-size:15.5px;transform:translateX(-50%) scaleX(1.01);text-rendering:geometricPrecision;">16</span></div>
<div class="t" style="left:1246.5px;top:741px"><span style="font-size:15.5px;transform:translateX(-50%) scaleX(1.02);text-rendering:geometricPrecision;">6,14</span></div>
<div class="t" style="left:1433.6px;top:741px"><span style="font-size:16px;transform:translateX(-50%) scaleX(1.124);">30,38</span></div>
<div class="t" style="left:106.5px;top:763px"><span style="font-size:16px;transform:translateX(-50%) scaleX(0.935);">ΚΕΡΚΥΡΑΣ</span></div>
<div class="t" style="left:308.6px;top:764px"><span style="font-size:15.5px;transform:translateX(-50%) scaleX(0.99);text-rendering:geometricPrecision;">5</span></div>
<div class="t" style="left:494.8px;top:764px"><span style="font-size:15.5px;transform:translateX(-50%) scaleX(1.01);text-rendering:geometricPrecision;">3,14</span></div>
<div class="t" style="left:681.9px;top:763px"><span style="font-size:16px;transform:translateX(-50%) scaleX(1.125);">4,79</span></div>
<div class="t" style="left:871.0px;top:763px"><span style="font-size:16px;transform:translateX(-50%) scaleX(0.927);font-style:italic;word-spacing:1.6px;">ΥΠΟ ΔΙΕΡΕΥΝΗΣΗ</span></div>
<div class="t" style="left:1059.7px;top:764px"><span style="font-size:15.5px;transform:translateX(-50%) scaleX(1.01);font-style:italic;text-rendering:geometricPrecision;">37</span></div>
<div class="t" style="left:106.5px;top:786px"><span style="font-size:16px;transform:translateX(-50%) scaleX(0.935);">ΚΙΛΚΙΣ</span></div>
<div class="t" style="left:308.6px;top:786px"><span style="font-size:15.5px;transform:translateX(-50%) scaleX(0.99);text-rendering:geometricPrecision;">8</span></div>
<div class="t" style="left:494.8px;top:786px"><span style="font-size:15.5px;transform:translateX(-50%) scaleX(1.01);text-rendering:geometricPrecision;">8,71</span></div>
<div class="t" style="left:681.9px;top:786px"><span style="font-size:16px;transform:translateX(-50%) scaleX(1.125);">9,95</span></div>
<div class="t" style="left:13.52px;top:71.00px"><span style="font-size:16px;transform-origin:0 0;transform:scaleX(0.9331);">ΠΕΡΙΦΕΡΕΙΑΚΗ ΕΝΟΤΗΤΑ</span></div>
<div class="t" style="left:263.15px;top:71.00px"><span style="font-size:16px;transform-origin:0 0;transform:scaleX(0.9495);">ΚΡΟΥΣΜΑΤΑ</span></div>
<div class="t" style="left:447.81px;top:29.46px"><span style="font-size:16px;transform-origin:0 0;transform:scaleX(0.8914);text-rendering:geometricPrecision;">ΜΕΣΟΣ ΟΡΟΣ</span></div>
<div class="t" style="left:426.06px;top:50.46px"><span style="font-size:16px;transform-origin:0 0;transform:scaleX(0.9414);text-rendering:geometricPrecision;">ΚΡΟΥΣΜΑΤΩΝ ΤΩΝ</span></div>
<div class="t" style="left:408.8px;top:71.46px"><span style="font-size:16px;transform-origin:0 0;transform:scaleX(0.922);text-rendering:geometricPrecision;">ΤΕΛΕΥΤΑΙΩΝ 7 ΗΜΕΡΩΝ</span></div>
<div class="t" style="left:619.56px;top:50.00px"><span style="font-size:16px;transform-origin:0 0;transform:scaleX(0.9435);">ΚΡΟΥΣΜΑΤΑ ΑΝΑ</span></div>
<div class="t" style="left:606.15px;top:71.00px"><span style="font-size:16px;transform-origin:0 0;transform:scaleX(1.1481);">100000</span></div>
<div class="t" style="left:672.78px;top:71.00px"><span style="font-size:16px;transform-origin:0 0;transform:scaleX(0.9209);">ΠΛΗΘΥΣΜΟ</span></div>
<div class="t" style="left:777.77px;top:71.00px"><span style="font-size:16px;transform-origin:0 0;transform:scaleX(0.9333);">ΠΕΡΙΦΕΡΕΙΑΚΗ ΕΝΟΤΗΤΑ</span></div>
<div class="t" style="left:1015.05px;top:71.00px"><span style="font-size:16px;transform-origin:0 0;transform:scaleX(0.9453);">ΚΡΟΥΣΜΑΤΑ</span></div>
<div class="t" style="left:1199.2px;top:29.46px"><span style="font-size:16px;transform-origin:0 0;transform:scaleX(0.8962);text-rendering:geometricPrecision;">ΜΕΣΟΣ ΟΡΟΣ</span></div>
<div class="t" style="left:1177.86px;top:50.46px"><span style="font-size:16px;transform-origin:0 0;transform:scaleX(0.9393);text-rendering:geometricPrecision;">ΚΡΟΥΣΜΑΤΩΝ ΤΩΝ</span></div>
<div class="t" style="left:1161.0px;top:71.46px"><span style="font-size:16px;transform-origin:0 0;transform:scaleX(0.9199);text-rendering:geometricPrecision;">ΤΕΛΕΥΤΑΙΩΝ 7 ΗΜΕΡΩΝ</span></div>
<div class="t" style="left:1370.55px;top:50.00px"><span style="font-size:16px;transform-origin:0 0;transform:scaleX(0.9496);">ΚΡΟΥΣΜΑΤΑ ΑΝΑ</span></div>
<div class="t" style="left:1357.55px;top:71.00px"><span style="font-size:16px;transform-origin:0 0;transform:scaleX(1.1481);">100000</span></div>
<div class="t" style="left:1423.68px;top:71.00px"><span style="font-size:16px;transform-origin:0 0;transform:scaleX(0.9231);">ΠΛΗΘΥΣΜΟ</span></div>
<div style='position:absolute;left:1462.5px;top:782px;font-family:"Liberation Sans",sans-serif;font-size:20px;line-height:1;color:#cecece;transform:scaleX(0.98);transform-origin:0 0;white-space:nowrap;'>Activate Windows</div><div class='ln' style='left:0;top:0;width:1521px;height:1px'></div><div class='ln' style='left:0;top:1px;width:1521px;height:1px;background:#a8a8a8'></div><div class='ln' style='left:0;top:87px;width:1521px;height:1px'></div><div class='ln' style='left:0;top:88px;width:1521px;height:1px;background:#999'></div><div class='ln' style='left:0;top:801px;width:1521px;height:1px'></div><div class='ln' style='left:0;top:803px;width:1521px;height:1px'></div><svg style='position:absolute;left:366px;top:538px' width='24' height='28' viewBox='0 0 24 28'><path d='M6.6 5.4 L6.7 21.3 L10.4 18 L13.2 23.6 L15.7 22.3 L13.4 17.2 L17.8 17 Z' fill='#fff' stroke='#1c1c28' stroke-width='1' stroke-linejoin='round'/></svg>
</body></html>
